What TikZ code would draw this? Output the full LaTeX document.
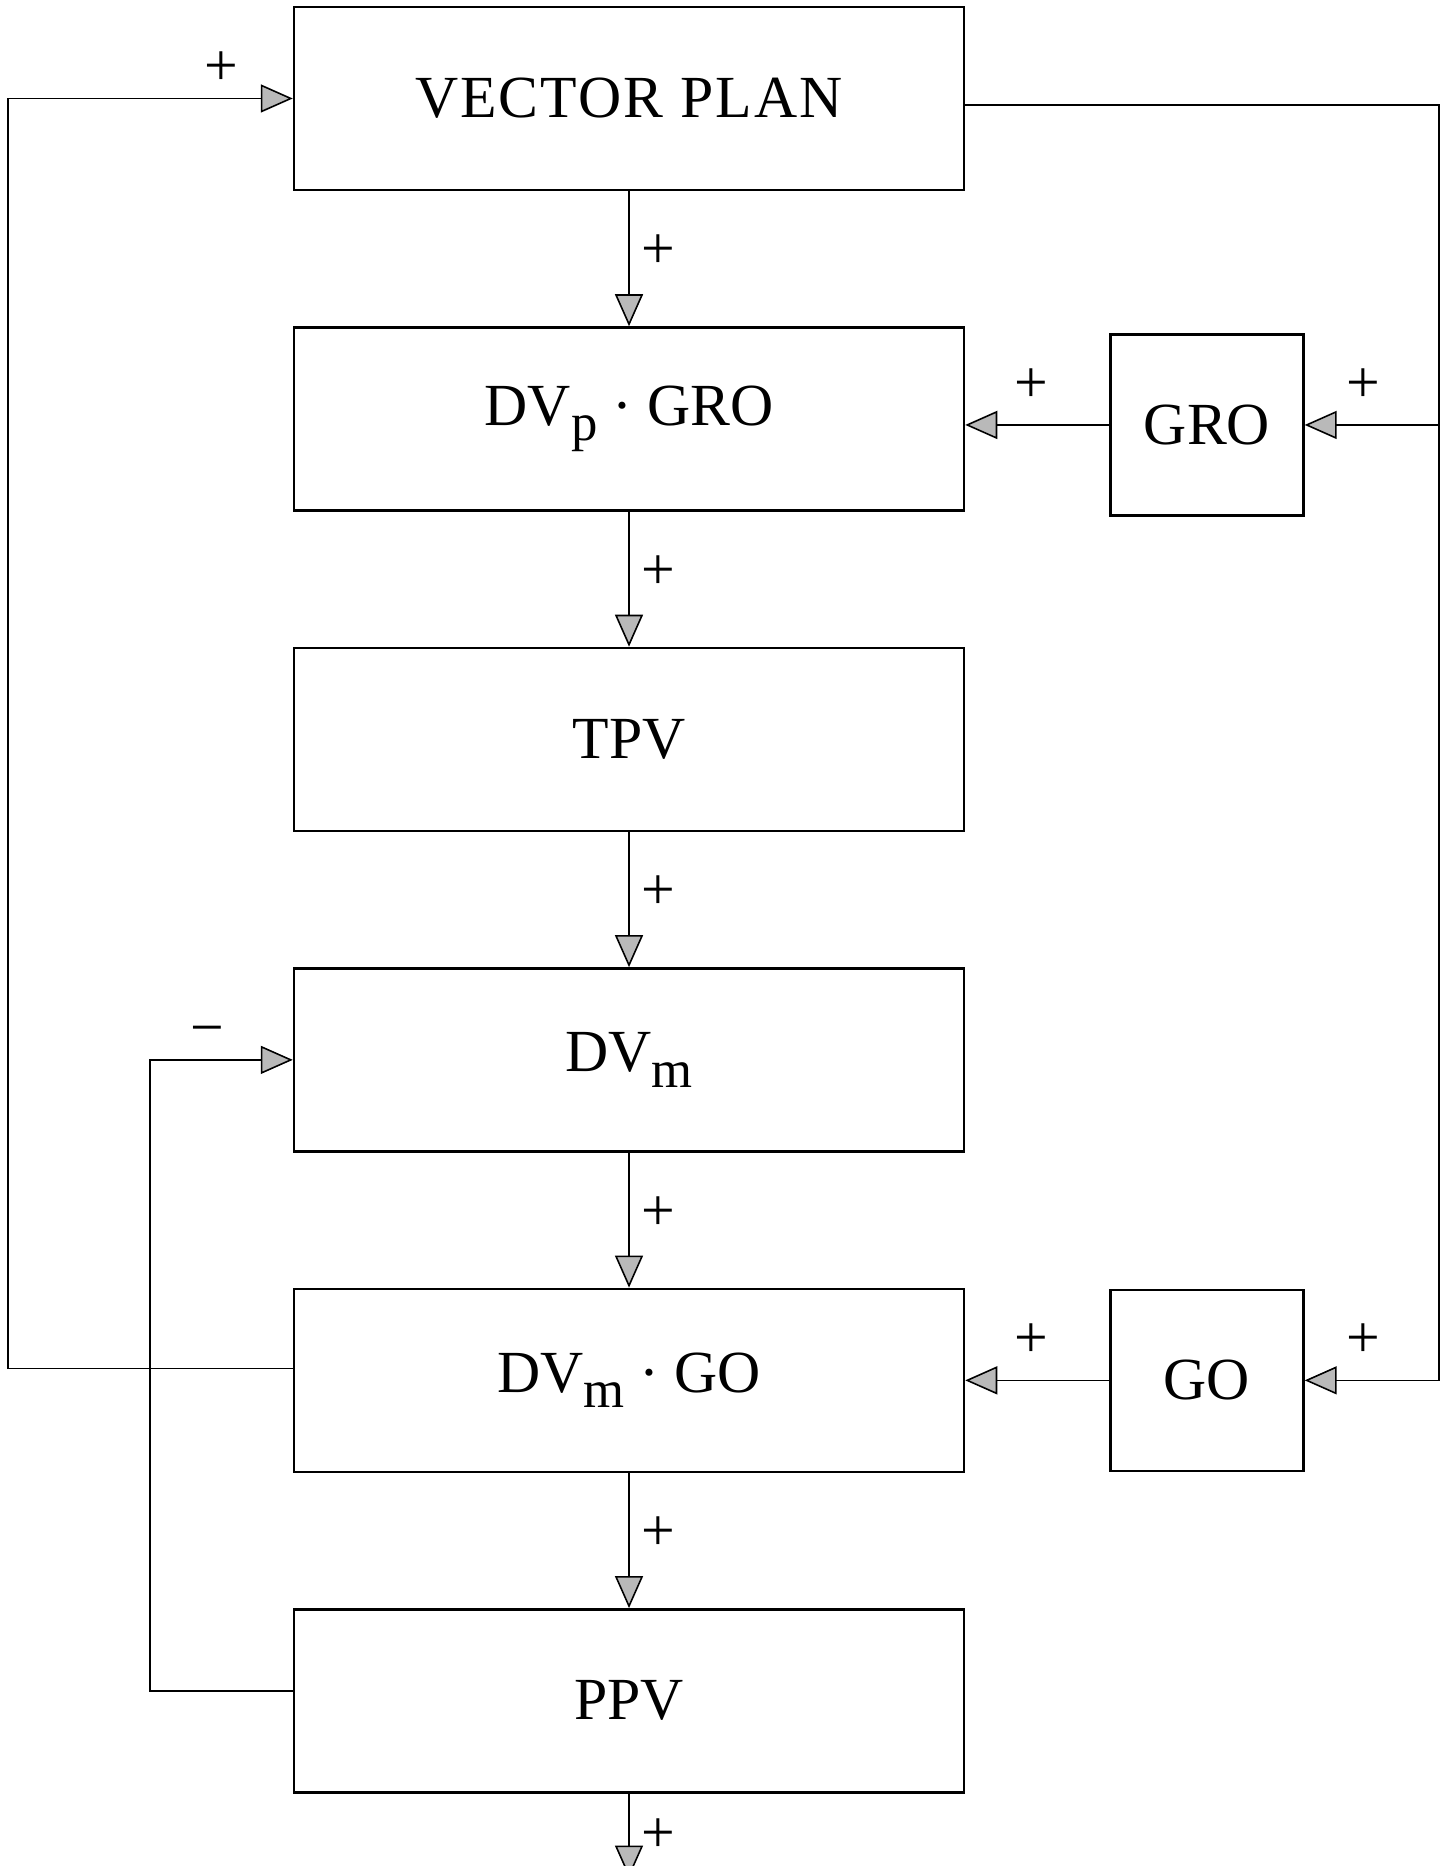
\documentclass[tikz,border=0pt]{standalone}
\usepackage{fontspec}
\setmainfont{Liberation Serif}
\usetikzlibrary{arrows.meta,positioning}

\newcommand{\lowsub}[1]{\raisebox{-4.3pt}{\fontsize{15}{15}\selectfont #1}}

\begin{document}
\begin{tikzpicture}[
    node distance=1.35cm,
    every node/.style={font=\fontsize{17}{20}\selectfont},
    block/.style={rectangle, draw=black, line width=0.7pt, minimum width=6.70cm, minimum height=1.83cm, inner sep=0pt},
    gain/.style={rectangle, draw=black, line width=0.7pt, minimum width=1.93cm, minimum height=1.81cm, inner sep=0pt},
    link/.style={draw=black, line width=0.45pt},
    flow/.style={link, -{Triangle[length=3.2mm, width=2.8mm, fill=gray!55]}}
]
\useasboundingbox (0,0) rectangle (14.53,-18.66);

% main chain
\node [block] (vp) at (6.29,-0.985) {\addfontfeature{LetterSpace=3.5}VECTOR PLAN};
\node [block, below=of vp] (dvp) {DV\lowsub{p} · GRO};
\node [block, below=of dvp] (tpv) {TPV};
\node [block, below=of tpv] (dvm) {DV\lowsub{m}};
\node [block, below=of dvm] (dvmgo) {DV\lowsub{m} · GO};
\node [block, below=of dvmgo] (ppv) {PPV};

% gains on the right
\node [gain, right=1.44cm of dvp, yshift=-0.6mm] (gro) {GRO};
\node [gain, right=1.44cm of dvmgo] (go) {GO};

\coordinate (lline) at (0.08,0);
\coordinate (iline) at (1.50,0);
\coordinate (rline) at (14.39,0);
\coordinate (out) at ([yshift=-0.84cm]ppv.south);

\draw [flow] (vp) -- node[right, pos=0.45] {+} (dvp);
\draw [flow] (dvp) -- node[right, pos=0.45] {+} (tpv);
\draw [flow] (tpv) -- node[right, pos=0.45] {+} (dvm);
\draw [flow] (dvm) -- node[right, pos=0.45] {+} (dvmgo);
\draw [flow] (dvmgo) -- node[right, pos=0.45] {+} (ppv);
\draw [flow] (ppv.south) -- node[right, pos=0.5] {+} (out);

\draw [flow] (gro.west) -- node[above=1mm, pos=0.54] {+} (gro.west -| dvp.east);
\draw [flow] (go.west) -- node[above=1mm, pos=0.54] {+} (go.west -| dvmgo.east);

% feedback loops
\draw [flow] ([yshift=-0.65mm]vp.east) -- ([yshift=-0.65mm]vp.east -| rline) -- (go.east -| rline) -- node[above=1mm, pos=0.56] {+} (go.east);
\draw [flow] (gro.east -| rline) -- node[above=1mm, pos=0.56] {+} (gro.east);
\draw [flow] ([yshift=1.2mm]dvmgo.west) -- ([yshift=1.2mm]dvmgo.west -| lline) -- (vp.west -| lline) -- node[above, pos=0.75] {+} (vp.west);
\draw [flow] ([yshift=1mm]ppv.west) -- ([yshift=1mm]ppv.west -| iline) -- (dvm.west -| iline) -- node[above, pos=0.4] {−} (dvm.west);
\end{tikzpicture}
\end{document}
